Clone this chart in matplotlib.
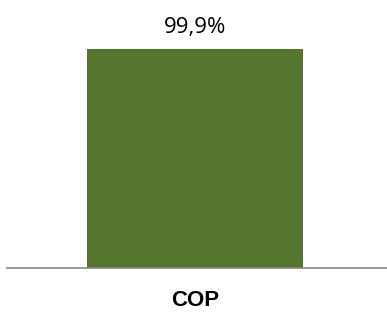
import matplotlib
matplotlib.use("Agg")
import matplotlib.pyplot as plt

# dados
categorias = ["COP"]
valores = [0.999]
rotulos = ["99,9%"]

fig = plt.figure(figsize=(3.87, 3.12), dpi=100)
ax = fig.add_axes([7 / 387, 1 - 268 / 312, 380 / 387, 258 / 312])

barras = ax.bar(range(len(categorias)), valores, width=0.6, color="#56752F")
for b, r in zip(barras, rotulos):
    ax.annotate(r, (b.get_x() + b.get_width() / 2, b.get_height()),
                xytext=(0, 8), textcoords="offset points",
                ha="center", va="bottom", fontsize=16, family="Open Sans")

ax.set_xlim(-0.5222, 0.5333)
ax.set_ylim(0, 0.999 * 258 / 219)
ax.set_xticks(range(len(categorias)))
ax.set_xticklabels(categorias, fontsize=16, fontweight="bold", family="Liberation Sans")
ax.tick_params(axis="x", length=0, pad=16)
ax.set_yticks([])
for s in ["top", "right", "left"]:
    ax.spines[s].set_visible(False)
ax.spines["bottom"].set_color("#888888")
ax.spines["bottom"].set_linewidth(1.2)

fig.savefig("out.png", dpi=100)
